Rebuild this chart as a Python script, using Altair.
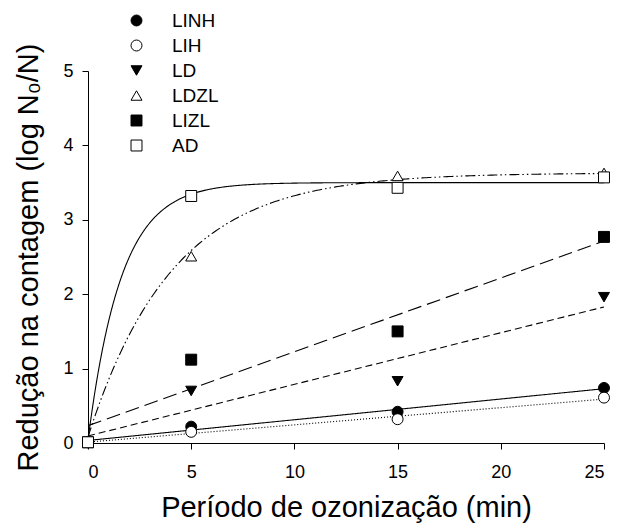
import altair as alt
import pandas as pd

# ---- data ----
times = [0, 5, 15, 25]
series_names = ["LINH", "LIH", "LD", "LDZL", "LIZL", "AD"]
linh = [0.01, 0.22, 0.42, 0.74]
lih = [0.01, 0.15, 0.32, 0.61]
ld = [0.01, 0.70, 0.83, 1.96]
ldzl = [0.01, 2.51, 3.59, 3.63]
lizl = [0.01, 1.12, 1.50, 2.77]
ad = [0.01, 3.32, 3.43, 3.57]

# series fitted with straight lines (linear regression)
linear_series = ["LINH", "LIH", "LD", "LIZL"]

# series fitted with saturating curves  y = y0 + a * (1 - exp(-k * t))
curve_series = ["AD", "LDZL"]
curve_y0 = [0.04, 0.08]
curve_a = [3.46, 3.55]
curve_k = [0.62, 0.245]

x_ticks = [0, 5, 10, 15, 20, 25]
y_ticks = [0, 1, 2, 3, 4, 5]

# ---- styles ----
shapes = ["circle", "circle", "triangle-down", "triangle-up", "square", "square"]
fills = ["black", "white", "black", "white", "black", "white"]
strokes = ["black"] * 6
sizes = [120, 120, 165, 165, 115, 115]
dash_style = {
    "LINH": [1, 0],
    "LIH": [1, 2],
    "LD": [7, 4],
    "LDZL": [10, 3, 1.5, 3, 1.5, 3],
    "LIZL": [14, 6],
    "AD": [1, 0],
}

values = {"LINH": linh, "LIH": lih, "LD": ld, "LDZL": ldzl, "LIZL": lizl, "AD": ad}
rows = []
for s in series_names:
    for t, v in zip(times, values[s]):
        rows.append({"series": s, "x": t, "y": v})
pts_df = pd.DataFrame(rows)

curve_df = pd.DataFrame({"series": curve_series, "y0": curve_y0, "a": curve_a, "k": curve_k})

FONT = "Liberation Sans"

x_enc = alt.X(
    "x:Q",
    scale=alt.Scale(domain=[0, 25], nice=False, zero=False),
    axis=alt.Axis(values=x_ticks, title="Período de ozonização (min)", labelPadding=14,
                  titleY=73, titleBaseline="alphabetic"),
)
y_enc = alt.Y(
    "y:Q",
    scale=alt.Scale(domain=[0, 5], nice=False),
    axis=alt.Axis(values=y_ticks, title="Redução na contagem (log N₀/N)", labelPadding=9,
                  titleX=-51, titleBaseline="alphabetic"),
)

layers = []
for s in linear_series:
    layers.append(
        alt.Chart(pts_df)
        .transform_filter(alt.datum.series == s)
        .transform_regression("x", "y", extent=[0, 25])
        .mark_line(color="black", strokeWidth=1.1, strokeDash=dash_style[s])
        .encode(x=x_enc, y=y_enc)
    )

for s in curve_series:
    layers.append(
        alt.Chart(curve_df)
        .transform_filter(alt.datum.series == s)
        .transform_calculate(xs="sequence(0, 25.001, 0.1)")
        .transform_flatten(["xs"])
        .transform_calculate(x="datum.xs", y="datum.y0 + datum.a * (1 - exp(-datum.k * datum.xs))")
        .mark_line(color="black", strokeWidth=1.1, strokeDash=dash_style[s])
        .encode(x=x_enc, y=y_enc)
    )

leg = alt.Legend(
    title=None, orient="none", legendX=39, legendY=-60, labelFontSize=19, labelFont=FONT,
    labelColor="black", symbolStrokeWidth=1,
    rowPadding=5, labelOffset=26, padding=0, symbolOffset=0,
)

pts = (
    alt.Chart(pts_df)
    .mark_point(filled=True, strokeWidth=1, opacity=1)
    .encode(
        x=x_enc,
        y=y_enc,
        shape=alt.Shape("series:N", scale=alt.Scale(domain=series_names, range=shapes), legend=leg),
        fill=alt.Fill("series:N", scale=alt.Scale(domain=series_names, range=fills), legend=leg),
        stroke=alt.Stroke("series:N", scale=alt.Scale(domain=series_names, range=strokes), legend=leg),
        size=alt.Size("series:N", scale=alt.Scale(domain=series_names, range=sizes), legend=leg),
    )
)
layers.append(pts)

chart = (
    alt.layer(*layers)
    .properties(
        width=516, height=372,
        autosize=alt.AutoSizeParams(type="none"),
        padding={"left": 88, "top": 71, "right": 13, "bottom": 85},
    )
    .configure_view(stroke=None)
    .configure_axis(
        domainColor="black", tickColor="black", labelColor="black", titleColor="black",
        grid=False, labelFont=FONT, titleFont=FONT, labelFontSize=18, titleFontSize=29,
        titleFontWeight="normal", tickSize=6, domainWidth=1, tickWidth=1,
    )
)

chart.save("out.html", embed_options={"renderer": "svg", "actions": False})
